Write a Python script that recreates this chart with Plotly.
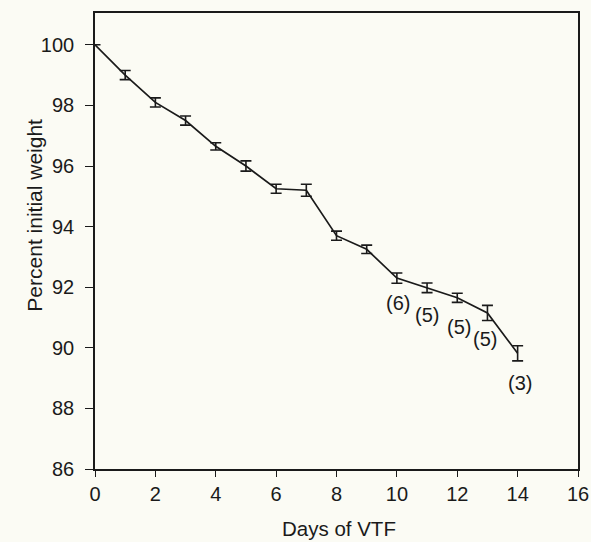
import plotly.graph_objects as go

days = [0, 1, 2, 3, 4, 5, 6, 7, 8, 9, 10, 11, 12, 13, 14]
weight = [100.0, 99.0, 98.1, 97.5, 96.65, 96.0, 95.25, 95.2, 93.7, 93.25, 92.3, 91.98, 91.65, 91.15, 89.82]
err = [0.0, 0.15, 0.15, 0.15, 0.12, 0.17, 0.15, 0.2, 0.15, 0.14, 0.17, 0.16, 0.15, 0.25, 0.25]

label_text = ["(6)", "(5)", "(5)", "(5)", "(3)"]
label_x = [10.04, 11.01, 12.06, 12.92, 14.08]
label_y = [91.47, 91.08, 90.69, 90.29, 88.84]

FONT = "Liberation Sans, Arial, Helvetica, sans-serif"
BG = "#fbfbf4"
INK = "#1a1a1a"

fig = go.Figure()
fig.add_trace(go.Scatter(
    x=days, y=weight, mode="lines",
    line=dict(color=INK, width=1.7),
    error_y=dict(type="data", array=err, visible=True, color=INK, thickness=1.6, width=5.5),
    showlegend=False,
))

annotations = []
for t, lx, ly in zip(label_text, label_x, label_y):
    annotations.append(dict(x=lx, y=ly, xref="x", yref="y", text=t, showarrow=False,
                            font=dict(family=FONT, size=20, color=INK)))
annotations.append(dict(x=-0.155, y=0.557, xref="paper", yref="paper", text="Percent initial weight",
                        textangle=-90, showarrow=False, font=dict(family=FONT, size=21, color=INK)))
annotations.append(dict(x=0.505, y=-0.13, xref="paper", yref="paper", text="Days of VTF",
                        showarrow=False, yanchor="middle", font=dict(family=FONT, size=20.5, color=INK)))

fig.update_layout(
    width=591, height=542,
    margin=dict(l=95, r=13, t=13, b=73),
    paper_bgcolor=BG, plot_bgcolor=BG,
    font=dict(family=FONT, size=20, color=INK),
    annotations=annotations,
    xaxis=dict(range=[0, 16], tickvals=list(range(0, 17, 2)), showgrid=False, zeroline=False,
               showline=True, linecolor=INK, linewidth=1.6, mirror=True, automargin=False,
               ticks="outside", ticklen=6, tickwidth=1.4, tickcolor=INK,
               tickfont=dict(family=FONT, size=20)),
    yaxis=dict(range=[86, 101.05], tickvals=list(range(86, 101, 2)), showgrid=False, zeroline=False,
               showline=True, linecolor=INK, linewidth=1.6, mirror=True, automargin=False,
               ticks="outside", ticklen=8, tickwidth=1.4, tickcolor=INK, ticklabelstandoff=7,
               tickfont=dict(family=FONT, size=20)),
)

fig.write_html("out.html")
